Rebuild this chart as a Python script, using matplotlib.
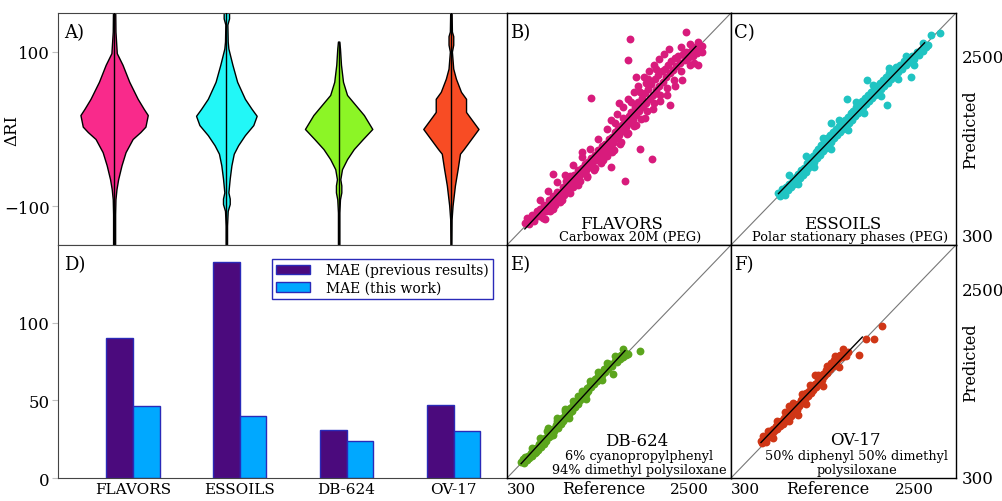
import numpy as np
import matplotlib
matplotlib.use("Agg")
import matplotlib.pyplot as plt

plt.rcParams["font.family"] = ["DejaVu Serif", "DejaVu Sans"]

# ---------------- A) violin profiles: delta RI vs relative density (read off the figure)
violin_names = ["FLAVORS", "ESSOILS", "DB-624", "OV-17"]
flavors_dri = [165, 126, 98, 83, 61, 39, 26, 18, 3, -4, -13, -30, -47, -65, -78, -91, -110, -165]
flavors_dens = [3, 4, 8, 25, 45, 70, 88, 100, 93, 78, 55, 34, 22, 12, 7, 4, 3, 3]
essoils_dri = [170, 152, 143, 135, 113, 104, 83, 61, 39, 26, 17, 5, -8, -21, -32, -47, -64, -82, -90, -97, -106, -125, -165]
essoils_dens = [2, 8, 8, 3, 4, 6, 18, 32, 55, 75, 90, 80, 55, 35, 22, 15, 10, 6, 10, 10, 4, 2, 2]
db624_dri = [113, 104, 83, 61, 44, 31, 18, 0, -13, -26, -39, -52, -65, -73, -82, -91, -108, -165]
db624_dens = [2, 4, 7, 13, 25, 50, 75, 100, 72, 45, 25, 10, 5, 8, 8, 4, 2, 2]
ov17_dri = [165, 152, 126, 120, 109, 100, 78, 65, 48, 39, 22, 16, 0, -13, -26, -32, -52, -73, -99, -117, -165]
ov17_dens = [1, 2, 3, 7, 7, 3, 7, 15, 30, 45, 45, 55, 82, 60, 38, 27, 20, 12, 5, 2, 1]
violin_colors = ["#f92a8b", "#22f7f7", "#8cf526", "#f84c24"]

# ---------------- D) mean absolute errors
mae_groups = ["FLAVORS", "ESSOILS", "DB-624", "OV-17"]
mae_previous = [90, 139, 31, 47]
mae_this_work = [46.5, 40, 24, 30.5]

# ---------------- B, C, E, F) reference vs predicted RI
flavors_pts = [
    (515, 560), (540, 610), (560, 540), (585, 600), (600, 650), (620, 580), (640, 630), (660, 700),
    (680, 640), (700, 720), (715, 660), (735, 610), (750, 760), (770, 700), (790, 750), (805, 820),
    (820, 700), (840, 790), (860, 870), (875, 760), (890, 840), (905, 920), (925, 850), (940, 800),
    (955, 900), (970, 980), (985, 880), (1000, 950), (1015, 1040), (1030, 960), (1050, 1010),
    (1065, 1100), (1080, 1030), (1100, 980), (1110, 1120), (1130, 1070), (1150, 1170), (1165, 1100),
    (1185, 1040), (1200, 1200), (1215, 1140), (1235, 1240), (1250, 1170), (1265, 1100), (1280, 1270),
    (1300, 1210), (1315, 1310), (1330, 1240), (1350, 1170), (1365, 1350), (1380, 1290), (1400, 1400),
    (1415, 1330), (1430, 1250), (1445, 1450), (1460, 1380), (1480, 1480), (1495, 1410), (1510, 1330),
    (1525, 1530), (1540, 1460), (1560, 1560), (1575, 1490), (1590, 1410), (1605, 1610), (1620, 1540),
    (1640, 1650), (1655, 1580), (1670, 1500), (1685, 1700), (1700, 1630), (1720, 1750), (1735, 1670),
    (1750, 1590), (1765, 1800), (1780, 1720), (1800, 1850), (1815, 1760), (1830, 1680), (1845, 1900),
    (1860, 1810), (1880, 1960), (1895, 1860), (1910, 1770), (1925, 2010), (1940, 1910), (1960, 2070),
    (1975, 1950), (1990, 1860), (2005, 2120), (2020, 2000), (2040, 2170), (2055, 2050), (2070, 1950),
    (2085, 2230), (2100, 2100), (2120, 2280), (2135, 2150), (2150, 2040), (2165, 2330), (2180, 2200),
    (2200, 2350), (2215, 2250), (2230, 2130), (2245, 2400), (2260, 2300), (2280, 2440), (2295, 2340),
    (2310, 2220), (2325, 2480), (2340, 2380), (2360, 2500), (2380, 2420), (2400, 2320), (2420, 2520),
    (2440, 2450), (2460, 2550), (2480, 2480), (2500, 2400), (2520, 2560), (2545, 2500), (2570, 2600),
    (2595, 2530), (2620, 2580), (2645, 2540), (2650, 2610),
    (1550, 1750), (1620, 1820), (1700, 1900), (1760, 2000), (1830, 2080), (1880, 2150), (1950, 2250),
    (2010, 2330), (2070, 2400), (2130, 2460), (2190, 2520), (2250, 2580), (2090, 2350), (1980, 2180),
    (1650, 1950), (1500, 1650),
    (700, 820), (760, 600), (800, 930), (860, 720), (900, 1030), (960, 820), (1000, 1120), (1060, 900),
    (1100, 1230), (1160, 1000), (1200, 1320), (1260, 1090), (1300, 1420), (1360, 1200), (1400, 1530),
    (1460, 1290), (1500, 1400), (1560, 1380), (1600, 1720), (1660, 1480), (1700, 1780), (1760, 1600),
    (1800, 1960), (1860, 1700), (1900, 2080), (1960, 1780), (2000, 2230), (2060, 1880), (2140, 1980),
    (2230, 2050), (2320, 2150), (2400, 2600), (2500, 2640), (2560, 2420), (2600, 2660),
    (856, 1130), (1309, 2014), (1553, 1202), (1723, 1043), (1763, 2448), (1783, 2692), (1904, 1415),
    (2053, 1295), (2267, 1933), (2462, 2777), (2410, 2216), (2600, 2400), (1200, 1380), (1860, 2254),
]
essoils_pts = [
    (870, 900), (890, 870), (910, 950), (930, 910), (950, 880), (965, 980), (985, 940), (1000, 1010),
    (1020, 970), (1040, 1060), (1055, 1010), (1075, 1090), (1090, 1040), (1110, 1130), (1125, 1080),
    (1145, 1170), (1160, 1110), (1180, 1200), (1195, 1150), (1215, 1250), (1230, 1190), (1250, 1290),
    (1265, 1230), (1285, 1330), (1300, 1270), (1320, 1380), (1335, 1310), (1350, 1420), (1370, 1350),
    (1385, 1460), (1400, 1390), (1420, 1500), (1435, 1430), (1455, 1540), (1470, 1460), (1490, 1580),
    (1505, 1500), (1525, 1620), (1540, 1540), (1560, 1650), (1575, 1580), (1595, 1680), (1610, 1620),
    (1630, 1720), (1645, 1650), (1665, 1760), (1680, 1690), (1700, 1790), (1715, 1720), (1735, 1830),
    (1750, 1760), (1770, 1860), (1785, 1800), (1805, 1900), (1820, 1830), (1840, 1940), (1855, 1870),
    (1875, 1970), (1890, 1900), (1910, 2010), (1925, 1940), (1945, 2050), (1960, 1980), (1980, 2080),
    (1995, 2010), (2015, 2120), (2030, 2050), (2050, 2150), (2065, 2080), (2085, 2190), (2100, 2110),
    (2120, 2220), (2140, 2150), (2160, 2260), (2180, 2190), (2200, 2300), (2220, 2230), (2240, 2330),
    (2260, 2270), (2285, 2370), (2305, 2310), (2330, 2400), (2350, 2350), (2375, 2440), (2400, 2390),
    (2425, 2470), (2450, 2430), (2475, 2500), (2500, 2470), (2530, 2540), (2555, 2510), (2580, 2570),
    (2610, 2560), (2640, 2600), (2660, 2630), (2700, 2745), (2810, 2770),
    (1000, 1120), (1100, 1010), (1200, 1330), (1300, 1210), (1400, 1540), (1500, 1420), (1600, 1760),
    (1700, 1640), (1800, 1960), (1900, 1830), (2000, 2160), (2100, 2030), (2200, 2360), (2300, 2230),
    (2400, 2500), (2500, 2400), (2600, 2650),
    (1687, 1995), (1936, 2216), (2177, 1925), (2458, 2254), (1500, 1720),
]
db624_pts = [
    (470, 490), (490, 520), (505, 470), (520, 540), (540, 510), (555, 560), (570, 530), (590, 590),
    (605, 560), (620, 610), (640, 590), (655, 650), (670, 620), (690, 690), (705, 660), (720, 720),
    (740, 690), (755, 760), (770, 730), (790, 800), (805, 770), (820, 840), (840, 800), (855, 870),
    (870, 840), (890, 910), (900, 1000), (915, 880), (930, 950), (950, 920), (965, 990), (980, 960),
    (1000, 1030), (1015, 1000), (1030, 1070), (1050, 1040), (1065, 1110), (1080, 1080), (1100, 1150),
    (1115, 1120), (1130, 1190), (1150, 1160), (1165, 1230), (1180, 1200), (1200, 1270), (1215, 1240),
    (1230, 1300), (1250, 1270), (1265, 1340), (1280, 1310), (1300, 1380), (1315, 1350), (1330, 1410),
    (1350, 1390), (1365, 1450), (1380, 1420), (1400, 1480), (1415, 1460), (1430, 1520), (1450, 1490),
    (1465, 1560), (1480, 1530), (1500, 1590), (1520, 1560), (1540, 1620), (1560, 1600), (1582, 1507),
    (1600, 1660), (1620, 1640), (1640, 1700), (1660, 1680), (1680, 1720), (1700, 1700), (1720, 1750),
    (1740, 1730), (1763, 1740), (1904, 1771), (1000, 1100), (1150, 1250), (780, 850),
    (600, 650), (700, 760), (800, 880), (900, 960), (1000, 1080), (1100, 1190), (1200, 1310),
    (1300, 1420), (1400, 1530), (1500, 1630), (1600, 1710), (1700, 1790),
    (650, 600), (850, 800), (1050, 990), (1250, 1220), (1450, 1430),
]
ov17_pts = [
    (660, 730), (675, 700), (690, 790), (705, 750), (720, 720), (740, 800), (755, 770), (770, 840),
    (790, 810), (805, 870), (820, 840), (840, 900), (855, 870), (870, 930), (890, 900), (905, 960),
    (920, 930), (940, 990), (955, 960), (970, 1020), (990, 990), (1005, 1050), (1020, 1020),
    (1040, 1090), (1055, 1060), (1070, 1120), (1090, 1090), (1105, 1160), (1120, 1130), (1140, 1200),
    (1155, 1170), (1170, 1240), (1190, 1210), (1205, 1280), (1220, 1250), (1240, 1310), (1255, 1280),
    (1270, 1350), (1290, 1320), (1305, 1390), (1320, 1360), (1340, 1430), (1355, 1400), (1370, 1470),
    (1390, 1440), (1405, 1510), (1420, 1480), (1440, 1550), (1455, 1520), (1470, 1590), (1490, 1560),
    (1505, 1630), (1520, 1600), (1540, 1670), (1555, 1640), (1570, 1700), (1590, 1680), (1610, 1720),
    (1630, 1700), (1650, 1740), (1680, 1710), (1700, 1760),
    (750, 850), (850, 960), (950, 1070), (1050, 1170), (1150, 1270), (1250, 1380), (1350, 1490),
    (1450, 1600), (1550, 1710), (1650, 1790),
    (800, 760), (1000, 960), (1200, 1160), (1400, 1370), (1600, 1590),
    (1314, 1488), (1835, 1728), (1916, 1914), (2016, 1914), (2117, 2061), (1000, 1130), (1100, 1030),
]

RI_LIM = (300, 3000)
RI_TICKS = [300, 2500]

fig = plt.figure(figsize=(10.03, 5.02), dpi=100)
axA = fig.add_axes([0.0578, 0.5100, 0.4477, 0.4622])
axD = fig.add_axes([0.0578, 0.0458, 0.4477, 0.4642])
axB = fig.add_axes([0.5055, 0.5100, 0.2233, 0.4622])
axC = fig.add_axes([0.7288, 0.5100, 0.2243, 0.4622])
axE = fig.add_axes([0.5055, 0.0458, 0.2233, 0.4642])
axF = fig.add_axes([0.7288, 0.0458, 0.2243, 0.4642])

# ---------- A) violins
profiles = [(flavors_dri, flavors_dens), (essoils_dri, essoils_dens),
            (db624_dri, db624_dens), (ov17_dri, ov17_dens)]
half_w = 0.30 / 100.0
for i, ((dri, dens), col) in enumerate(zip(profiles, violin_colors)):
    pos = i + 1
    dri = np.array(dri, float)
    w = np.array(dens, float) * half_w
    axA.fill_betweenx(dri, pos - w, pos + w, facecolor=col, edgecolor="black", lw=1.0, zorder=2)
    axA.vlines(pos, dri.min(), dri.max(), color="black", lw=1.0, zorder=3)
axA.set_xlim(0.5, 4.5)
axA.set_ylim(-150, 150)
axA.set_xticks([])
axA.set_yticks([-100, 100])
axA.tick_params(axis="y", length=4, color="#c0c0c0", pad=2, labelsize=12)
axA.set_ylabel("ΔRI", fontsize=12)
axA.yaxis.set_label_coords(-0.083, 0.5)
axA.text(0.013, 0.918, "A)", transform=axA.transAxes, fontsize=13, va="center", ha="left")

# ---------- D) MAE bars
x = np.arange(len(mae_groups))
bw = 0.25
axD.bar(x - bw / 2, mae_previous, bw, color="#4b0a7d", edgecolor="#2a2ab8", lw=1,
        label="MAE (previous results)")
axD.bar(x + bw / 2, mae_this_work, bw, color="#00a8ff", edgecolor="#2a2ab8", lw=1,
        label="MAE (this work)")
axD.set_xlim(-0.7, 3.5)
axD.set_ylim(0, 150)
axD.set_yticks([0, 50, 100])
axD.set_xticks(x)
axD.set_xticklabels(mae_groups)
axD.tick_params(axis="y", length=4, color="#c0c0c0", pad=2, labelsize=12)
axD.tick_params(axis="x", length=0, pad=3, labelsize=11)
leg = axD.legend(loc="upper right", fontsize=10, fancybox=False, framealpha=1,
                 edgecolor="#2a2ab8", handlelength=2.4, handletextpad=1.2,
                 labelspacing=0.25, borderpad=0.3, borderaxespad=1.0)
leg.get_frame().set_linewidth(1.0)
axD.text(0.013, 0.918, "D)", transform=axD.transAxes, fontsize=13, va="center", ha="left")

for ax in (axA, axD):
    for s in ax.spines.values():
        s.set_color("#444444")


# ---------- scatter panels
def scatter_panel(ax, pts, color, label, names, name_xy, sub_xy):
    ref, pred = np.array(pts, float).T
    ax.plot(RI_LIM, RI_LIM, color="#777777", lw=0.8, zorder=1)
    ax.scatter(ref, pred, s=32, color=color, lw=0, zorder=2)
    k, b = np.polyfit(ref, pred, 1)
    xs = np.percentile(ref, [0, 97])
    ax.plot(xs, k * xs + b, color="black", lw=1.0, zorder=3)
    ax.set_xlim(*RI_LIM)
    ax.set_ylim(*RI_LIM)
    ax.set_xticks([])
    ax.set_yticks([])
    for s in ax.spines.values():
        s.set_color("black")
        s.set_linewidth(1.0)
    ax.text(0.015, 0.918, label, transform=ax.transAxes, fontsize=13, va="center", ha="left")
    ax.text(name_xy[0], name_xy[1], names[0], transform=ax.transAxes, fontsize=12,
            ha="center", va="center")
    for j, line in enumerate(names[1:]):
        ax.text(sub_xy[0], sub_xy[1][j], line, transform=ax.transAxes, fontsize=9.3,
                ha="center", va="center")


scatter_panel(axB, flavors_pts, "#d81b7c", "B)", ["FLAVORS", "Carbowax 20M (PEG)"],
              (0.513, 0.092), (0.55, [0.036]))
scatter_panel(axC, essoils_pts, "#20c4c2", "C)", ["ESSOILS", "Polar stationary phases (PEG)"],
              (0.498, 0.092), (0.53, [0.036]))
scatter_panel(axE, db624_pts, "#5ba51d", "E)",
              ["DB-624", "6% cyanopropylphenyl", "94% dimethyl polysiloxane"],
              (0.58, 0.16), (0.59, [0.095, 0.036]))
scatter_panel(axF, ov17_pts, "#cf3616", "F)",
              ["OV-17", "50% diphenyl 50% dimethyl", "polysiloxane"],
              (0.551, 0.167), (0.56, [0.095, 0.036]))

# right axis ticks (Predicted)
for ax, va300 in ((axC, "bottom"), (axF, "center")):
    ax.yaxis.tick_right()
    ax.set_yticks(RI_TICKS)
    ax.set_yticklabels([str(t) for t in RI_TICKS])
    ax.tick_params(axis="y", length=0, pad=4, labelsize=12)
    ax.get_yticklabels()[0].set_va(va300)
    ax.text(1.065, 0.5, "Predicted", transform=ax.transAxes, rotation=90,
            fontsize=11.5, ha="center", va="center")

# bottom axis ticks (Reference)
for ax in (axE, axF):
    ax.set_xticks(RI_TICKS)
    ax.set_xticklabels([str(t) for t in RI_TICKS])
    ax.tick_params(axis="x", length=0, pad=3, labelsize=11)
    ax.get_xticklabels()[0].set_ha("left")
    ax.text(0.43, -0.045, "Reference", transform=ax.transAxes, fontsize=11.5,
            ha="center", va="center")

fig.savefig("out.png", dpi=100)
